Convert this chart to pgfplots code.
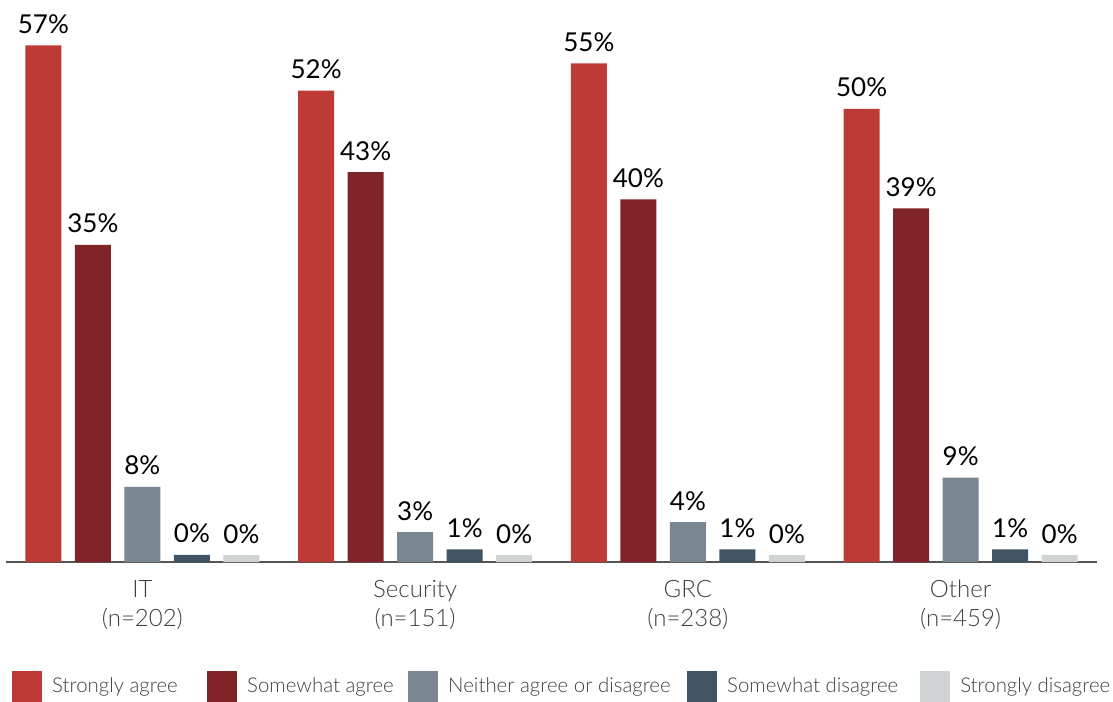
\documentclass[border=0pt]{standalone}
\usepackage{fontspec}
\setmainfont{Lato}
\IfFontExistsTF{Lato Light}{\newfontfamily\light{Lato Light}}{\newfontfamily\light{Lato}}
\usepackage{pgfplots}
\usepackage{pgfplotstable}
\pgfplotsset{compat=1.18}
\definecolor{cA}{HTML}{BE3A34}
\definecolor{cB}{HTML}{80242A}
\definecolor{cC}{HTML}{7A8793}
\definecolor{cD}{HTML}{3F5464}
\definecolor{cE}{HTML}{D0D3D4}
\definecolor{axgray}{HTML}{555555}
\definecolor{labgray}{HTML}{404040}

\pgfplotstableread{
x y lab
0 57 57
1 52 52
2 55 55
3 50 50
}\tabA
\pgfplotstableread{
x y lab
0 35 35
1 43 43
2 40 40
3 39 39
}\tabB
\pgfplotstableread{
x y lab
0 8.3 8
1 3.3 3
2 4.4 4
3 9.3 9
}\tabC
\pgfplotstableread{
x y lab
0 0.8 0
1 1.4 1
2 1.4 1
3 1.4 1
}\tabD
\pgfplotstableread{
x y lab
0 0.75 0
1 0.75 0
2 0.75 0
3 0.75 0
}\tabE

\begin{document}
\begin{tikzpicture}
\begin{axis}[
  scale only axis, width=1091pt, height=562pt,
  xmin=-0.5, xmax=3.5, ymin=0, ymax=62,
  ybar=13.5pt, bar width=36pt,
  axis x line*=bottom, axis y line=none,
  axis line style={draw=axgray, line width=2pt},
  xtick={0,1,2,3},
  xticklabels={{IT\\(n=202)},{Security\\(n=151)},{GRC\\(n=238)},{Other\\(n=459)}},
  xtick style={draw=none},
  xticklabel style={align=center, font=\light\fontsize{24}{29}\selectfont, text=labgray, anchor=north, inner sep=0pt, yshift=-14pt},
  ytick=\empty,
  clip=false,
  nodes near coords={\pgfplotspointmeta\%},
  point meta=explicit symbolic,
  every node near coord/.append style={font=\fontsize{26}{26}\selectfont, text=black, anchor=base, yshift=12pt},
  legend columns=5,
  legend style={at={(axis description cs:0,0)}, anchor=west, xshift=6pt, yshift=-124pt,
    draw=none, inner sep=0pt, font=\light\fontsize{20.4}{20.4}\selectfont, text=labgray,
    cells={anchor=west}, nodes={inner sep=0pt},
    /tikz/every odd column/.append style={column sep=10pt},
    /tikz/every even column/.append style={column sep=0pt}},
  sq/.style={legend image code/.code={\fill[##1] (0pt,-15.5pt) rectangle (30pt,15.5pt);}},
]
\addplot[fill=cA, draw=none, sq] table[x=x,y=y,meta=lab]{\tabA};
\addplot[fill=cB, draw=none, sq] table[x=x,y=y,meta=lab]{\tabB};
\addplot[fill=cC, draw=none, sq] table[x=x,y=y,meta=lab]{\tabC};
\addplot[fill=cD, draw=none, sq] table[x=x,y=y,meta=lab]{\tabD};
\addplot[fill=cE, draw=none, sq] table[x=x,y=y,meta=lab]{\tabE};
\legend{\makebox[155pt][l]{Strongly agree},\makebox[161pt][l]{Somewhat agree},\makebox[239pt][l]{Neither agree or disagree},\makebox[193pt][l]{Somewhat disagree},Strongly disagree}
\path (axis description cs:0,1) ++(-6pt,0pt) coordinate (bbtl);
\path (bbtl) circle (0pt);
\path (axis description cs:1,1) ++(16pt,0pt) coordinate (bbtr);
\path (bbtr) circle (0pt);
\end{axis}
\end{tikzpicture}
\end{document}
